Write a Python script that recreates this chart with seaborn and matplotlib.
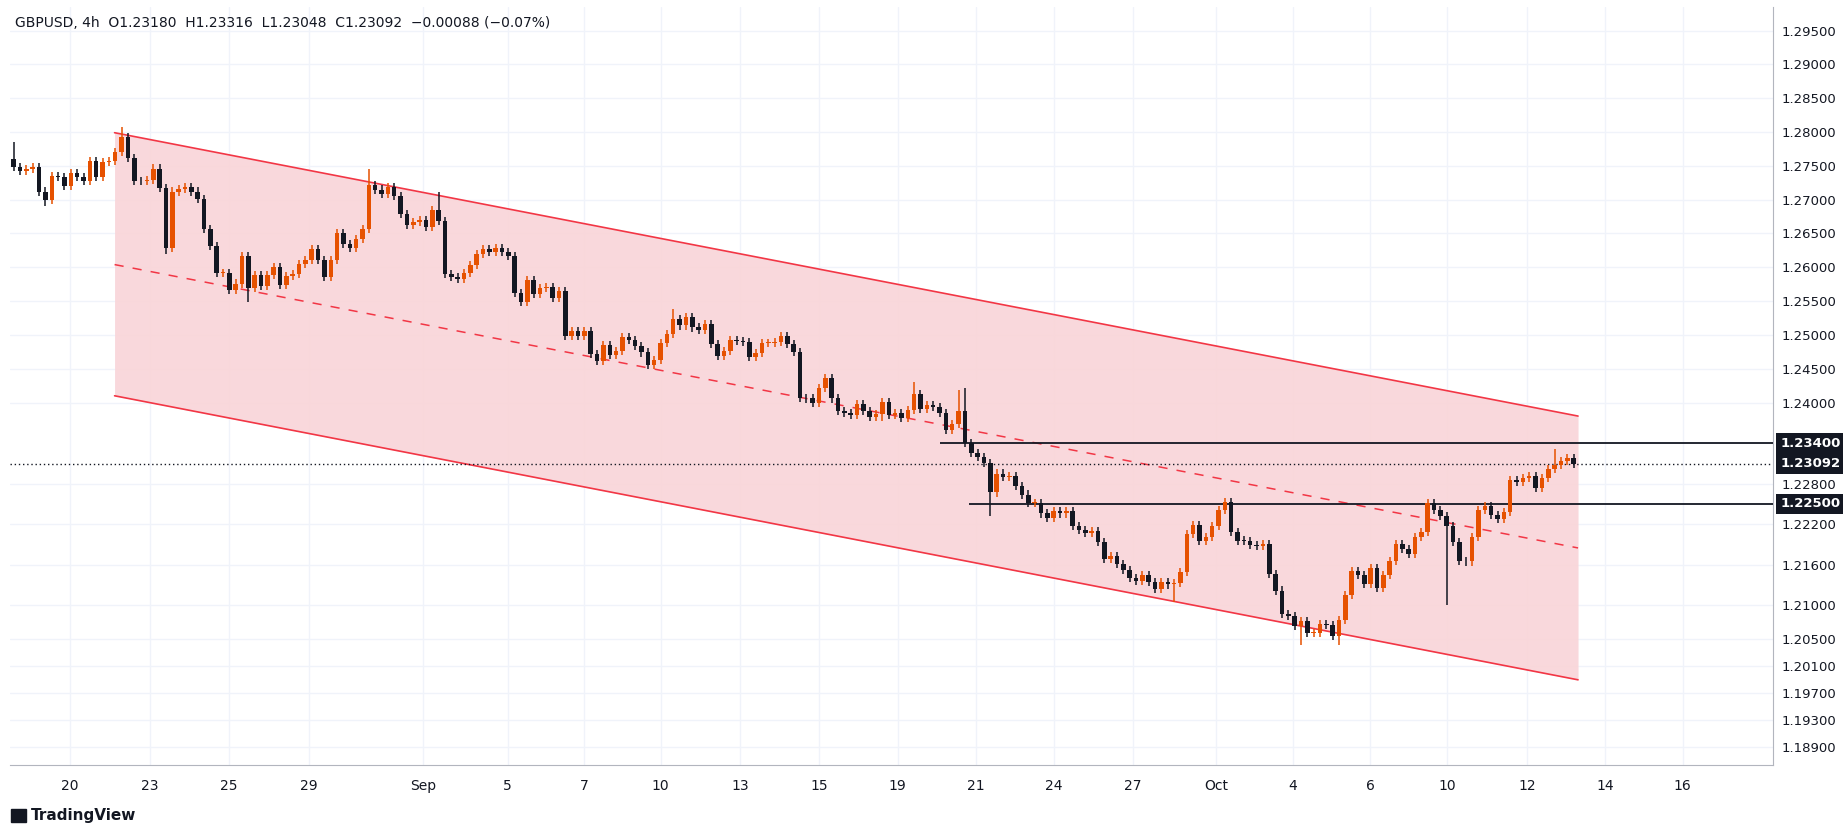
import numpy as np
import pandas as pd
import matplotlib
matplotlib.use("Agg")
import matplotlib.pyplot as plt
import seaborn as sns

# GBPUSD 4h closes (open = previous close)
first_open = 1.2760
closes = [
    1.2748, 1.2742, 1.2745, 1.2748, 1.2712, 1.2700, 1.2735, 1.2734, 1.2720, 1.2739,
    1.2734, 1.2727, 1.2757, 1.2733, 1.2756, 1.2757, 1.2770, 1.2793, 1.2762, 1.2728,
    1.2727, 1.2729, 1.2746, 1.2717, 1.2628, 1.2712, 1.2716, 1.2719, 1.2712, 1.2701,
    1.2656, 1.2631, 1.2592, 1.2592, 1.2566, 1.2576, 1.2616, 1.2569, 1.2589, 1.2573,
    1.2589, 1.2600, 1.2574, 1.2587, 1.2590, 1.2605, 1.2611, 1.2627, 1.2611, 1.2586,
    1.2611, 1.2651, 1.2635, 1.2629, 1.2642, 1.2657, 1.2722, 1.2715, 1.2709, 1.2719,
    1.2706, 1.2679, 1.2663, 1.2667, 1.2670, 1.2659, 1.2684, 1.2669, 1.2590, 1.2586,
    1.2583, 1.2591, 1.2604, 1.2620, 1.2627, 1.2623, 1.2629, 1.2622, 1.2617, 1.2562,
    1.2549, 1.2581, 1.2561, 1.2570, 1.2571, 1.2554, 1.2565, 1.2498, 1.2506, 1.2498,
    1.2506, 1.2472, 1.2461, 1.2485, 1.2470, 1.2476, 1.2497, 1.2493, 1.2483, 1.2474,
    1.2455, 1.2463, 1.2488, 1.2501, 1.2524, 1.2514, 1.2527, 1.2511, 1.2508, 1.2516,
    1.2486, 1.2469, 1.2476, 1.2493, 1.2491, 1.2489, 1.2468, 1.2473, 1.2488, 1.2488,
    1.2490, 1.2499, 1.2486, 1.2475, 1.2407, 1.2406, 1.2400, 1.2422, 1.2436, 1.2406,
    1.2388, 1.2384, 1.2382, 1.2398, 1.2387, 1.2379, 1.2383, 1.2401, 1.2381, 1.2384,
    1.2377, 1.2389, 1.2413, 1.2390, 1.2396, 1.2393, 1.2385, 1.2359, 1.2368, 1.2387,
    1.2340, 1.2326, 1.2320, 1.2311, 1.2267, 1.2295, 1.2290, 1.2292, 1.2277, 1.2264,
    1.2252, 1.2252, 1.2236, 1.2230, 1.2240, 1.2236, 1.2240, 1.2218, 1.2212, 1.2207,
    1.2210, 1.2194, 1.2169, 1.2173, 1.2161, 1.2152, 1.2141, 1.2136, 1.2145, 1.2134,
    1.2125, 1.2135, 1.2131, 1.2133, 1.2149, 1.2205, 1.2219, 1.2196, 1.2201, 1.2217,
    1.2241, 1.2253, 1.2209, 1.2196, 1.2195, 1.2189, 1.2188, 1.2191, 1.2147, 1.2122,
    1.2087, 1.2084, 1.2070, 1.2077, 1.2059, 1.2059, 1.2072, 1.2071, 1.2055, 1.2078,
    1.2115, 1.2151, 1.2145, 1.2132, 1.2155, 1.2126, 1.2145, 1.2166, 1.2191, 1.2184,
    1.2176, 1.2201, 1.2209, 1.2251, 1.2241, 1.2232, 1.2217, 1.2194, 1.2166, 1.2165,
    1.2201, 1.2241, 1.2247, 1.2234, 1.2228, 1.2238, 1.2285, 1.2283, 1.2288, 1.2291,
    1.2274, 1.2288, 1.2302, 1.2308, 1.2314, 1.2318, 1.23092,
]
# long wicks that stand out (candle index -> price)
long_highs = {0: 1.2785, 17: 1.2808, 56: 1.2746, 67: 1.2712, 104: 1.2538, 142: 1.2431,
              149: 1.2418, 150: 1.2422, 243: 1.23316}
long_lows = {5: 1.2690, 24: 1.2619, 37: 1.2549, 137: 1.2372, 154: 1.2232, 183: 1.2105,
             226: 1.2101, 203: 1.2042, 209: 1.2041}

tick_pos = [8.9, 21.5, 33.9, 46.5, 64.5, 77.9, 89.9, 102, 114.5, 127, 139.4, 151.8,
            164, 176.5, 189.6, 201.7, 213.9, 226, 238.7, 251, 263.2]
tick_labels = ["20", "23", "25", "29", "Sep", "5", "7", "10", "13", "15", "19", "21",
               "24", "27", "Oct", "4", "6", "10", "12", "14", "16"]
price_ticks = [1.295, 1.29, 1.285, 1.28, 1.275, 1.27, 1.265, 1.26, 1.255, 1.25, 1.245,
               1.24, 1.228, 1.222, 1.216, 1.21, 1.205, 1.201, 1.197, 1.193, 1.189]

channel_x = [15.9, 246.7]
channel_upper = [1.2799, 1.2380]
channel_mid = [1.2604, 1.2185]
channel_lower = [1.2410, 1.1990]

level_hi, level_hi_start = 1.2340, 146
level_lo, level_lo_start = 1.2250, 150.7
last_close = 1.23092

UP, DOWN = "#e65100", "#131722"
RED = "#f23645"

opens = [first_open] + closes[:-1]
df = pd.DataFrame({"o": opens, "c": closes})
df["i"] = np.arange(len(df))
wick = 0.0006
df["h"] = df[["o", "c"]].max(axis=1) + wick
df["l"] = df[["o", "c"]].min(axis=1) - wick
for k, v in long_highs.items():
    df.loc[k, "h"] = max(df.loc[k, "h"], v)
for k, v in long_lows.items():
    df.loc[k, "l"] = min(df.loc[k, "l"], v)
df["up"] = df["c"] >= df["o"]

sns.set_style("white")
fig = plt.figure(figsize=(18.43, 8.34), dpi=100)
ax = fig.add_axes([0.0054, 0.0827, 0.9568, 0.909])

xmin, xmax = -0.6, 277.5
ymin, ymax = 1.1864, 1.2985
ax.set_xlim(xmin, xmax)
ax.set_ylim(ymin, ymax)

for p in price_ticks:
    ax.axhline(p, color="#f0f3fa", lw=1, zorder=0)
for t in tick_pos:
    ax.axvline(t, color="#f0f3fa", lw=1, zorder=0)

# channel
ax.fill_between(channel_x, channel_lower, channel_upper, color="#f9d6da", alpha=0.95, lw=0, zorder=1)
chan = pd.DataFrame({"x": channel_x * 3,
                     "y": channel_upper + channel_mid + channel_lower,
                     "s": ["u", "u", "m", "m", "l", "l"]})
sns.lineplot(data=chan, x="x", y="y", units="s", estimator=None, color=RED, lw=1.2, ax=ax, zorder=2)
for ln in ax.lines:
    if abs(ln.get_ydata()[0] - channel_mid[0]) < 1e-6:
        ln.set_linestyle((0, (6, 6)))
        ln.set_linewidth(1.1)

# levels
ax.hlines(level_hi, level_hi_start, xmax, color="#131722", lw=1.3, zorder=3)
ax.hlines(level_lo, level_lo_start, xmax, color="#131722", lw=1.3, zorder=3)
ax.axhline(last_close, color="#131722", lw=1, ls=(0, (1, 2)), zorder=3)

# candles
colors = np.where(df["up"], UP, DOWN)
ax.vlines(df["i"], df["l"], df["h"], colors=colors, lw=1.1, zorder=4)
body_lo = df[["o", "c"]].min(axis=1)
body_h = (df["c"] - df["o"]).abs().clip(lower=0.00012)
ax.bar(df["i"], body_h, bottom=body_lo, width=0.72, color=colors, lw=0, zorder=5)

ax.set_xticks(tick_pos)
ax.set_xticklabels(tick_labels, fontsize=10, color="#131722")
ax.tick_params(axis="x", length=0, pad=10)
ax.yaxis.tick_right()
ax.set_yticks(price_ticks)
ax.set_yticklabels([f"{p:.5f}" for p in price_ticks], fontsize=9.5, color="#131722")
ax.tick_params(axis="y", length=0, pad=6)
for s in ["top", "left"]:
    ax.spines[s].set_visible(False)
ax.spines["right"].set_color("#b2b5be")
ax.spines["bottom"].set_color("#b2b5be")
ax.set_xlabel("")
ax.set_ylabel("")

for val, txt in [(level_hi, "1.23400"), (last_close, "1.23092"), (level_lo, "1.22500")]:
    ax.text(1.004, val, txt, transform=ax.get_yaxis_transform(), fontsize=9.5,
            fontweight="bold", color="white", va="center", ha="left",
            bbox=dict(boxstyle="square,pad=0.3", fc="#131722", ec="none"), zorder=10, clip_on=False)

fig.text(0.008, 0.972, "GBPUSD, 4h  O1.23180  H1.23316  L1.23048  C1.23092  \u22120.00088 (\u22120.07%)",
         fontsize=10, color="#131722", va="center")
fig.text(0.017, 0.022, "TradingView", fontsize=11, fontweight="bold", color="#131722", va="center")
fig.patches.append(plt.Rectangle((0.006, 0.014), 0.008, 0.016, transform=fig.transFigure,
                                 color="#131722", figure=fig))

fig.savefig("out.png", dpi=100)
